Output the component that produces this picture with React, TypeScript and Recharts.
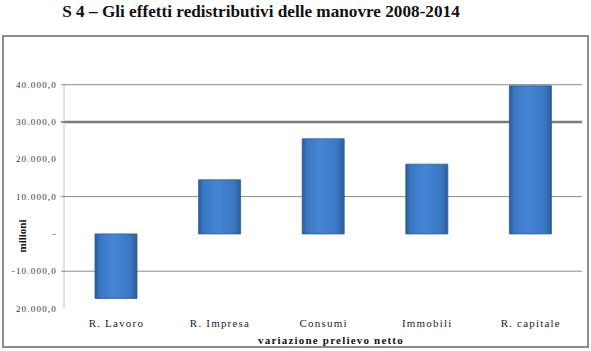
import React from "react";
import { BarChart, Bar, XAxis, YAxis, CartesianGrid } from "recharts";

const categories = ["R. Lavoro", "R. Impresa", "Consumi", "Immobili", "R. capitale"];
const values = [-17300, 14500, 25500, 18700, 39700];
const yTicks = [-20000, -10000, 0, 10000, 20000, 30000, 40000];
const yTickLabels = ["20.000,0", "-10.000,0", "-", "10.000,0", "20.000,0", "30.000,0", "40.000,0"];
const gridValues = [40000, 10000, -10000];
const heavyGridValues = [30000];

const data = categories.map((c, i) => ({ name: c, value: values[i] }));

const SERIF = "'Liberation Serif', 'Times New Roman', serif";

const YTick = (props: any) => {
  const { x, y, payload } = props;
  const idx = yTicks.indexOf(payload.value);
  const label = idx >= 0 ? yTickLabels[idx] : String(payload.value);
  const showLine = gridValues.includes(payload.value) || heavyGridValues.includes(payload.value);
  return (
    <g>
      {showLine && (
        <line x1={x + 5} x2={x + 9} y1={y} y2={y} stroke="#8a8a8a" strokeWidth={heavyGridValues.includes(payload.value) ? 2 : 1} />
      )}
      <text
        x={x + 1}
        y={y}
        dy={3}
        textAnchor="end"
        fontFamily={SERIF}
        fontSize={9}
        fill="#333"
        style={{ letterSpacing: "1.2px" }}
      >
        {label}
      </text>
    </g>
  );
};

const XTick = (props: any) => {
  const { x, y, payload } = props;
  return (
    <text
      x={x + 0.6}
      y={y}
      dy={10}
      textAnchor="middle"
      fontFamily={SERIF}
      fontSize={11}
      fill="#222"
      style={{ letterSpacing: "1.2px" }}
    >
      {payload.value}
    </text>
  );
};

export default function App() {
  return (
    <div style={{ position: "absolute", left: 0, top: 0, width: 591, height: 351, background: "#fff", overflow: "hidden" }}>
      <div
        style={{
          position: "absolute",
          left: 0,
          top: 1,
          width: 522,
          textAlign: "center",
          fontFamily: SERIF,
          fontWeight: "bold",
          fontSize: 17.2,
          color: "#111",
          lineHeight: "22px",
        }}
      >
        S 4 – Gli effetti redistributivi delle manovre 2008-2014
      </div>
      <div
        style={{
          position: "absolute",
          left: 2,
          top: 35,
          width: 583,
          height: 309,
          border: "2px solid #8c8c8c",
        }}
      />
      <div
        style={{
          position: "absolute",
          left: 2,
          top: 229,
          width: 40,
          height: 14,
          transform: "rotate(-90deg)",
          textAlign: "center",
          fontFamily: SERIF,
          fontWeight: "bold",
          fontSize: 11,
          lineHeight: "14px",
          color: "#111",
        }}
      >
        milioni
      </div>
      <div style={{ position: "absolute", left: 0, top: 0 }}>
        <BarChart width={591} height={351} data={data} margin={{ top: 84.7, right: 9, bottom: 0, left: 0 }}>
          <defs>
            <linearGradient id="barGrad" x1="0" y1="0" x2="1" y2="0">
              <stop offset="0%" stopColor="#2a5c9a" />
              <stop offset="12%" stopColor="#3a78c4" />
              <stop offset="45%" stopColor="#4486d6" />
              <stop offset="85%" stopColor="#3a76c0" />
              <stop offset="100%" stopColor="#2b5d9b" />
            </linearGradient>
          </defs>
          <CartesianGrid vertical={false} horizontalValues={gridValues} stroke="#8a8a8a" strokeWidth={1} />
          <CartesianGrid vertical={false} horizontalValues={heavyGridValues} stroke="#7a7a7a" strokeWidth={2.5} />
          <XAxis
            dataKey="name"
            axisLine={false}
            tickLine={false}
            height={42.5}
            interval={0}
            tick={<XTick />}
            tickMargin={2}
            label={{
              value: "variazione prelievo netto",
              position: "insideBottom",
              offset: 7,
              dx: 8,
              style: { fontFamily: SERIF, fontWeight: "bold", fontSize: 11, fill: "#111", letterSpacing: "1.2px" },
            }}
          />
          <YAxis
            width={64}
            domain={[-20000, 40000]}
            ticks={yTicks}
            interval={0}
            axisLine={{ stroke: "#c4c4c4" }}
            tickLine={false}
            tick={<YTick />}
          />
          <Bar dataKey="value" fill="url(#barGrad)" stroke="#2c5a92" strokeWidth={0.8} barSize={42} isAnimationActive={false} />
        </BarChart>
      </div>
    </div>
  );
}
